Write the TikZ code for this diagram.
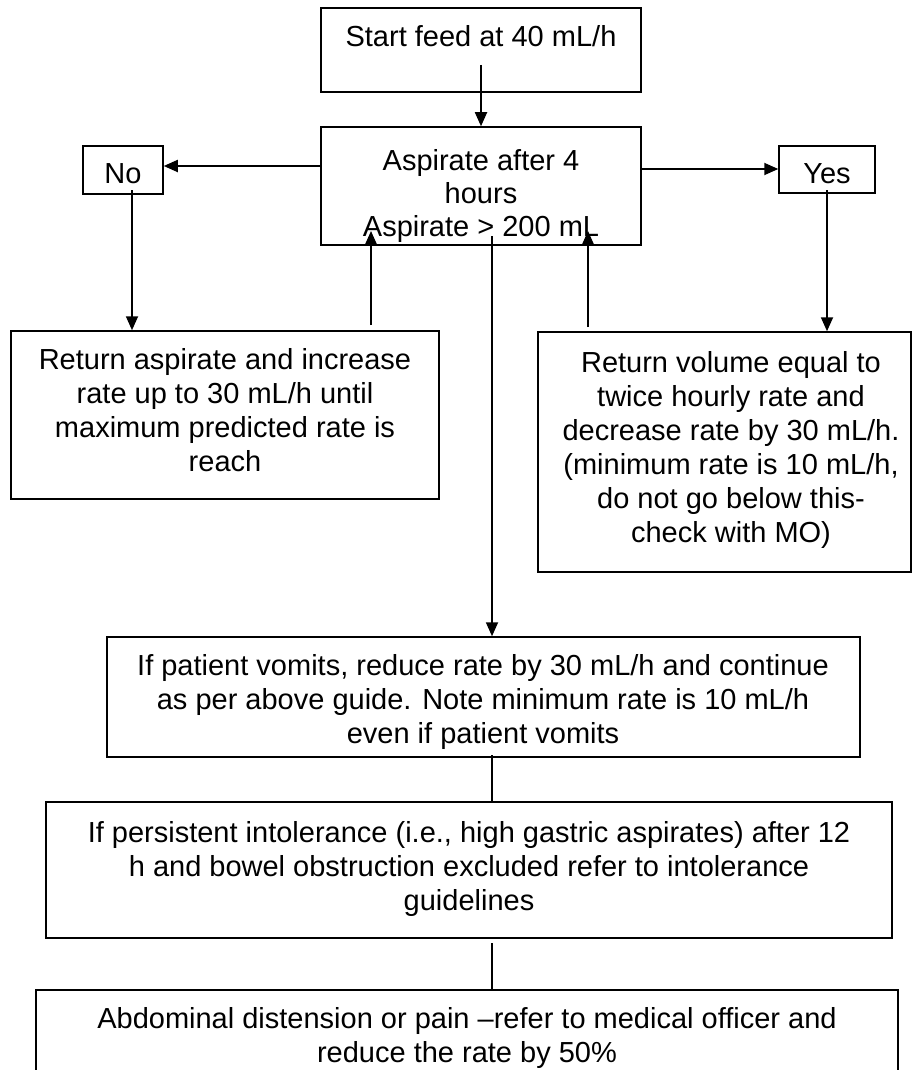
\documentclass[tikz,border=0pt]{standalone}
\usepackage{fontspec}
\setmainfont{Liberation Sans}
\usetikzlibrary{arrows.meta,fit}
\begin{document}
\begin{tikzpicture}[x=1pt,y=-1pt,
  box/.style={draw,line width=1.5pt,inner sep=0pt},
  txt/.style={inner sep=0pt,align=center,font=\fontsize{29}{34}\selectfont},
  arr/.style={line width=1.8pt,-{Triangle[width=12pt,length=14pt]}},
  ln/.style={line width=1.2pt}]
\useasboundingbox (0,0) rectangle (912,1070);
\clip (0,0) rectangle (912,1070);
% boxes
\node[box,fit={(321,8)(641,92)}] (start) {};
\node[box,fit={(321,127)(641,245)}] (asp) {};
\node[box,fit={(83,146)(163,194)}] (no) {};
\node[box,fit={(779,146)(875,193)}] (yes) {};
\node[box,fit={(11,331)(439,499)}] (left) {};
\node[box,fit={(538,332)(911,572)}] (right) {};
\node[box,fit={(107,637)(860,757)}] (vom) {};
\node[box,fit={(46,802)(892,938)}] (pers) {};
\node[box,fit={(36,990)(898,1100)}] (abd) {};
% texts
\node[txt,anchor=base] (tstart) at (481,47) {Start feed at 40 mL/h};
\node[txt,anchor=north,font=\fontsize{29}{33}\selectfont] (tasp) at (481,149) {Aspirate after 4\\hours\\Aspirate > 200 mL};
\node[txt,anchor=base] (tno) at (123,183) {No};
\node[txt,anchor=base] (tyes) at (827,183) {Yes};
\node[txt,anchor=north] (tleft) at (225,348) {Return aspirate and increase\\rate up to 30 mL/h until\\maximum predicted rate is\\reach};
\node[txt,anchor=north] (tright) at (731,351) {Return volume equal to\\twice hourly rate and\\decrease rate by 30 mL/h.\\(minimum rate is 10 mL/h,\\do not go below this-\\check with MO)};
\node[txt,anchor=north] (tvom) at (483,654) {If patient vomits, reduce rate by 30 mL/h and continue\\as per above guide. Note minimum rate is 10 mL/h\\even if patient vomits};
\node[txt,anchor=north] (tpers) at (469,821) {If persistent intolerance (i.e., high gastric aspirates) after 12\\h and bowel obstruction excluded refer to intolerance\\guidelines};
\node[txt,anchor=north] (tabd) at (467,1007) {Abdominal distension or pain –refer to medical officer and\\reduce the rate by 50\%};
% connector anchors
\coordinate (c1) at (481,65);
\coordinate (cl) at (0,166);
\coordinate (cr) at (0,169);
\coordinate (n1) at (132,190);
\coordinate (y1) at (827,190);
\coordinate (u1) at (371,325);
\coordinate (u1t) at (371,231);
\coordinate (u2) at (588,327);
\coordinate (u2t) at (588,231);
\coordinate (m1) at (492,236);
\coordinate (m2) at (492,755);
\coordinate (m3) at (492,943);
% connectors
\draw[arr] (c1) -- (asp.north -| c1);
\draw[arr] (asp.west |- cl) -- (no.east |- cl);
\draw[arr] (asp.east |- cr) -- (yes.west |- cr);
\draw[arr] (n1) -- (left.north -| n1);
\draw[arr] (y1) -- (right.north -| y1);
\draw[arr] (u1) -- (u1t);
\draw[arr] (u2) -- (u2t);
\draw[arr] (m1) -- (vom.north -| m1);
\draw[ln] (m2) -- (pers.north -| m2);
\draw[ln] (m3) -- (abd.north -| m3);
\end{tikzpicture}
\end{document}
